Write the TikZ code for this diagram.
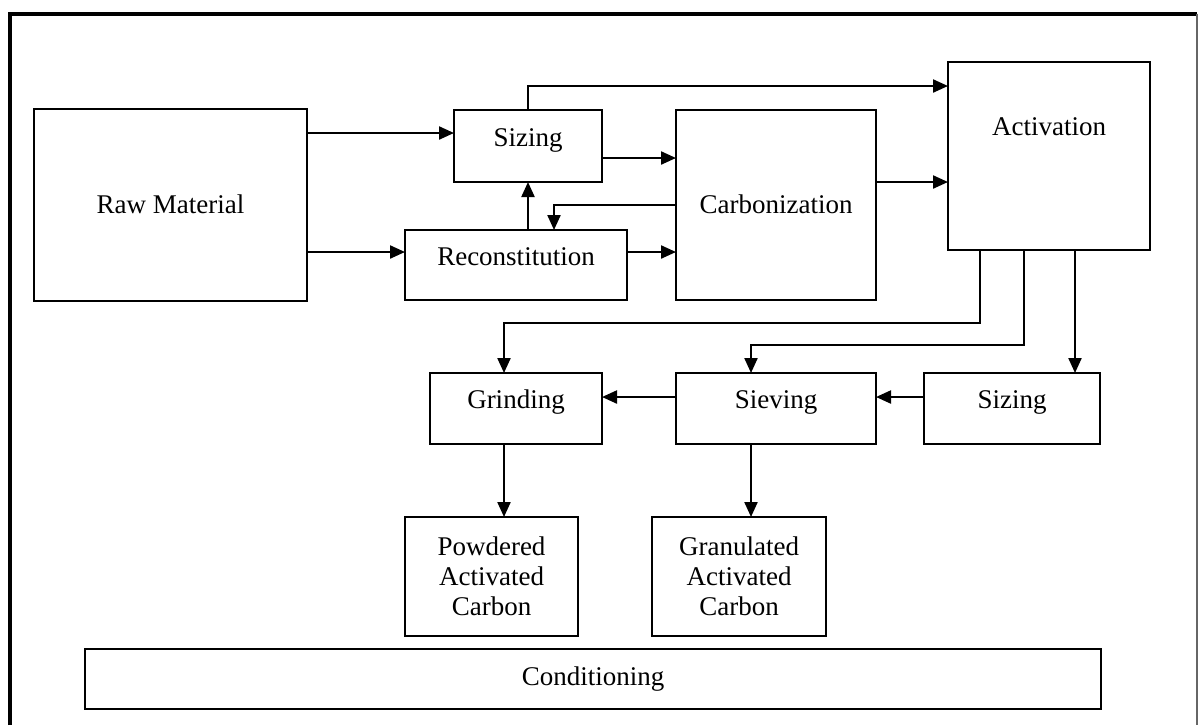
\documentclass[tikz,border=0pt]{standalone}
\usepackage{fontspec}
\setmainfont{Liberation Serif}
\usetikzlibrary{arrows.meta}
\begin{document}
\begin{tikzpicture}[x=0.5pt,y=-0.5pt,
  box/.style={draw,line width=1.1pt,inner sep=0pt,outer sep=0pt,align=center,font=\fontsize{13.5}{15}\selectfont},
  oneline/.style={text height=5pt,text depth=5pt},
  lowline/.style={text height=9pt,text depth=1pt},
  midline/.style={text height=8pt,text depth=2pt},
  txt/.style={font=\fontsize{13.5}{15}\selectfont,inner sep=0pt,text height=5pt,text depth=5pt},
  arr/.style={line width=1.1pt,-{Triangle[length=7.5pt,width=6.5pt]}}]
\useasboundingbox (0,0) rectangle (1198,725);
\fill[white] (0,0) rectangle (1198,725);
% frame
\draw[line width=2pt] (10,725) -- (10,13.5) -- (1197,13.5);
\draw[line width=0.6pt,black!60] (1197,13.5) -- (1197,725);
% boxes
\node[box,lowline,minimum width=136.5pt,minimum height=96pt] (raw) at (170.5,205) {Raw Material};
\node[box,oneline,minimum width=74pt,minimum height=36pt] (siz1) at (528,146) {Sizing};
\node[box,oneline,minimum width=111pt,minimum height=35pt] (rec) at (516,265) {Reconstitution};
\node[box,lowline,minimum width=100pt,minimum height=95pt] (carb) at (776,205) {Carbonization};
\node[box,minimum width=101pt,minimum height=94pt] (act) at (1049,156) {};
\node[txt] (actt) at (1049,135) {Activation};
\node[box,oneline,minimum width=86pt,minimum height=35.5pt] (grind) at (516,408.5) {Grinding};
\node[box,oneline,minimum width=100pt,minimum height=35.5pt] (siev) at (776,408.5) {Sieving};
\node[box,oneline,minimum width=88pt,minimum height=35.5pt] (siz2) at (1012,408.5) {Sizing};
\node[box,minimum width=86.5pt,minimum height=59.5pt] (pow) at (491.5,576.5) {Powdered\\Activated\\Carbon};
\node[box,minimum width=87pt,minimum height=59.5pt] (gran) at (739,576.5) {Granulated\\Activated\\Carbon};
\node[box,midline,minimum width=508pt,minimum height=30pt] (cond) at (593,679) {Conditioning};
% connectors
\draw[arr] (raw.east |- 0,133) -- (siz1.west |- 0,133);
\draw[arr] (raw.east |- 0,252) -- (rec.west |- 0,252);
\draw[arr] (siz1.east |- 0,158) -- (carb.west |- 0,158);
\draw[arr] (rec.east |- 0,252) -- (carb.west |- 0,252);
\draw[arr] (siz1.north) |- (act.west |- 0,86);
\draw[arr] (siz1.south |- rec.north) -- (siz1.south);
\draw[arr] (carb.west) -| (rec.north -| 554,0);
\draw[arr] (carb.east |- 0,182) -- (act.west |- 0,182);
\draw[arr] (act.south -| 980,0) |- (504,323) -- (grind.north -| 504,0);
\draw[arr] (act.south -| 1024,0) |- (751,345) -- (siev.north -| 751,0);
\draw[arr] (act.south -| 1075,0) -- (siz2.north -| 1075,0);
\draw[arr] (siz2.west |- 0,397) -- (siev.east |- 0,397);
\draw[arr] (siev.west |- 0,397) -- (grind.east |- 0,397);
\draw[arr] (grind.south -| 504,0) -- (pow.north -| 504,0);
\draw[arr] (siev.south -| 751,0) -- (gran.north -| 751,0);
\end{tikzpicture}
\end{document}
